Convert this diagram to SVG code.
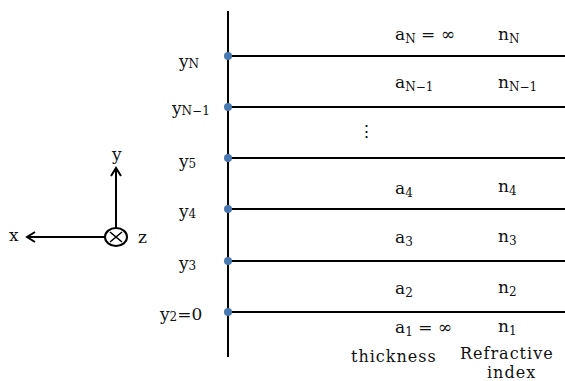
<svg xmlns="http://www.w3.org/2000/svg" width="565" height="381" viewBox="0 0 565 381">
<defs>
<style>
text{font-family:"DejaVu Serif","Liberation Serif",serif;font-size:17px;fill:#111}
.s{font-size:12px}
.w{font-size:16px;letter-spacing:1px}
.ln{stroke:#000;stroke-width:2;fill:none}
.dot{fill:#4a78b0}
</style>
<marker id="ah" viewBox="0 0 12 12" refX="10" refY="6" markerWidth="12" markerHeight="12" markerUnits="userSpaceOnUse" orient="auto">
<path d="M2,1 L10,6 L2,11" fill="none" stroke="#000" stroke-width="2"/>
</marker>
</defs>
<g id="connectors">
<line class="ln" x1="228" y1="11" x2="228" y2="357"/>
<line class="ln" x1="228" y1="56" x2="565" y2="56"/>
<line class="ln" x1="228" y1="107" x2="565" y2="107"/>
<line class="ln" x1="228" y1="158" x2="565" y2="158"/>
<line class="ln" x1="228" y1="209" x2="565" y2="209"/>
<line class="ln" x1="228" y1="261" x2="565" y2="261"/>
<line class="ln" x1="228" y1="312" x2="565" y2="312"/>
<line class="ln" x1="116" y1="228" x2="116" y2="168" marker-end="url(#ah)"/>
<line class="ln" x1="105" y1="237" x2="27" y2="237" marker-end="url(#ah)"/>
</g>
<g id="axes">
<ellipse cx="116" cy="237" rx="11" ry="9" fill="none" stroke="#000" stroke-width="2"/>
<path d="M110,232 L122,242 M122,232 L110,242" stroke="#000" stroke-width="1.6"/>
<text x="112" y="160">y</text>
<text x="9" y="241">x</text>
<text x="138" y="243">z</text>
</g>
<g id="interfaces">
<circle class="dot" cx="228" cy="56" r="4"/>
<circle class="dot" cx="228" cy="107" r="4"/>
<circle class="dot" cx="228" cy="158" r="4"/>
<circle class="dot" cx="228" cy="209" r="4"/>
<circle class="dot" cx="228" cy="261" r="4"/>
<circle class="dot" cx="228" cy="312" r="4"/>
<text x="179" y="67">y<tspan class="s" dy="1">N</tspan></text>
<text x="172" y="114">y<tspan class="s" dy="1">N−1</tspan></text>
<text x="179" y="167">y<tspan class="s" dy="1">5</tspan></text>
<text x="179" y="217">y<tspan class="s" dy="1">4</tspan></text>
<text x="179" y="269">y<tspan class="s" dy="1">3</tspan></text>
<text x="160" y="320">y<tspan class="s" dy="1">2</tspan><tspan dy="-1">=0</tspan></text>
</g>
<g id="layers">
<text x="395" y="40">a<tspan class="s" dy="3">N</tspan><tspan dy="-3"> = ∞</tspan></text>
<text x="498" y="40">n<tspan class="s" dy="3">N</tspan></text>
<text x="395" y="88">a<tspan class="s" dy="3">N−1</tspan></text>
<text x="498" y="88">n<tspan class="s" dy="3">N−1</tspan></text>
<text x="358" y="137">⋮</text>
<text x="395" y="194">a<tspan class="s" dy="3">4</tspan></text>
<text x="498" y="192">n<tspan class="s" dy="3">4</tspan></text>
<text x="395" y="243">a<tspan class="s" dy="3">3</tspan></text>
<text x="498" y="242">n<tspan class="s" dy="3">3</tspan></text>
<text x="395" y="294">a<tspan class="s" dy="3">2</tspan></text>
<text x="498" y="293">n<tspan class="s" dy="3">2</tspan></text>
<text x="395" y="333">a<tspan class="s" dy="3">1</tspan><tspan dy="-3"> = ∞</tspan></text>
<text x="498" y="332">n<tspan class="s" dy="3">1</tspan></text>
</g>
<g id="legend">
<text class="w" x="351" y="362">thickness</text>
<text class="w" x="460" y="359">Refractive</text>
<text class="w" x="487" y="378">index</text>
</g>
</svg>
